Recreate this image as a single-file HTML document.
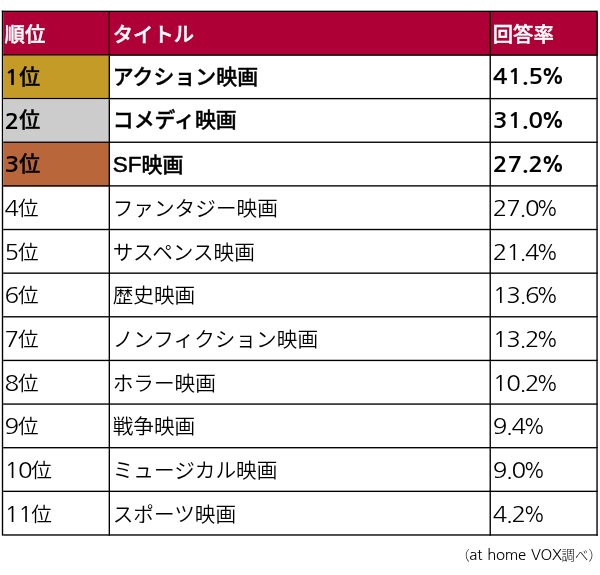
<!DOCTYPE html>
<html lang="ja">
<head>
<meta charset="utf-8">
<title>ランキング</title>
<style>
html,body{margin:0;padding:0;background:#fff;}
body{width:600px;height:575px;overflow:hidden;position:relative;font-family:"Liberation Sans","Noto Sans CJK JP",sans-serif;color:#000;}
#wrap{position:absolute;left:0;top:0;width:1320px;height:1265px;transform:translateY(-0.25px) scale(0.4545455);transform-origin:0 0;}
table{position:absolute;left:4px;top:24px;border-collapse:separate;border-spacing:0;table-layout:fixed;width:1311px;border-top:3px solid #000;border-left:3px solid #000;}
td,th{box-sizing:border-box;border-right:3px solid #000;border-bottom:3px solid #000;height:96px;padding:0 0 0 3px;text-align:left;vertical-align:top;white-space:nowrap;overflow:hidden;}
td div,th div{height:93px;line-height:100px;overflow:hidden;}
th div{line-height:100px;}
tr.top td div{line-height:93.6px;}
th{background:#ae0036;color:#fff;font-weight:500;font-size:44.8px;-webkit-text-stroke:0.9px #fff;}
td{font-weight:350;font-size:45.4px;}
tr.top td{font-weight:500;font-size:46px;-webkit-text-stroke:0.9px #000;}
td:nth-child(2),th:nth-child(2){padding-left:6px;}
td:nth-child(3),th:nth-child(3){padding-left:4px;}
.n,.p{font-family:"NanumGothic","Liberation Sans",sans-serif;display:inline-block;line-height:1;transform-origin:0 50%;-webkit-text-stroke:0;}
td .n{font-size:47.4px;font-weight:400;letter-spacing:-2.4px;transform:scaleX(1.12);}
td .p{font-size:46.9px;font-weight:400;transform:scaleX(0.95);}
td i{font-style:normal;margin:0 -0.7px;}
tr.top td .n,tr.top td .p{position:relative;top:1.2px;}
tr.top td .d1{top:2.6px;}
tr.top td .n{font-size:46.6px;font-weight:700;letter-spacing:-0.2px;transform:scaleX(1.16);-webkit-text-stroke:0;}
tr.top td .p{font-size:45.5px;font-weight:700;transform:scaleX(1.03);-webkit-text-stroke:0;}
tr.top td i{margin:0 -1.3px;}
td .d1{margin-right:3.16px}
td .d2{margin-right:6.32px}
td .p3{margin-left:6.74px}
td .p2{margin-left:3.59px}
tr.top td .d1{margin-right:4.49px}
tr.top td .d2{margin-right:8.97px}
tr.top td .p3{margin-left:11.97px}
tr.top td .p2{margin-left:7.48px}
tr.top td .a{font-family:"Liberation Sans",sans-serif;font-size:49.6px;font-weight:400;-webkit-text-stroke:1.1px #000;}
.c1{width:235px}.c2{width:838px}.c3{width:235px}
.gold{background:#c49b27}.silver{background:#cccccc}.bronze{background:#b8663a}
#cap{position:absolute;right:-4px;top:1199px;font-size:29.5px;font-weight:300;line-height:48px;white-space:nowrap;}
#cap .l{font-family:"NanumGothic","Liberation Sans",sans-serif;font-size:32.8px;font-weight:400;letter-spacing:-0.76px;word-spacing:3.3px;line-height:1;margin-left:-1px;}
</style>
</head>
<body>
<div id="wrap">
<table>
<colgroup><col class="c1"><col class="c2"><col class="c3"></colgroup>
<tr><th><div>順位</div></th><th><div>タイトル</div></th><th><div>回答率</div></th></tr>
<tr class="top"><td class="gold"><div><span class="n d1">1</span>位</div></td><td><div>アクション映画</div></td><td><div><span class="n">41<i>.</i>5</span><span class="p p3">%</span></div></td></tr>
<tr class="top"><td class="silver"><div><span class="n d1">2</span>位</div></td><td><div>コメディ映画</div></td><td><div><span class="n">31<i>.</i>0</span><span class="p p3">%</span></div></td></tr>
<tr class="top"><td class="bronze"><div><span class="n d1">3</span>位</div></td><td><div><span class="a">SF</span>映画</div></td><td><div><span class="n">27<i>.</i>2</span><span class="p p3">%</span></div></td></tr>
<tr><td><div><span class="n d1">4</span>位</div></td><td><div>ファンタジー映画</div></td><td><div><span class="n">27<i>.</i>0</span><span class="p p3">%</span></div></td></tr>
<tr><td><div><span class="n d1">5</span>位</div></td><td><div>サスペンス映画</div></td><td><div><span class="n">21<i>.</i>4</span><span class="p p3">%</span></div></td></tr>
<tr><td><div><span class="n d1">6</span>位</div></td><td><div>歴史映画</div></td><td><div><span class="n">13<i>.</i>6</span><span class="p p3">%</span></div></td></tr>
<tr><td><div><span class="n d1">7</span>位</div></td><td><div>ノンフィクション映画</div></td><td><div><span class="n">13<i>.</i>2</span><span class="p p3">%</span></div></td></tr>
<tr><td><div><span class="n d1">8</span>位</div></td><td><div>ホラー映画</div></td><td><div><span class="n">10<i>.</i>2</span><span class="p p3">%</span></div></td></tr>
<tr><td><div><span class="n d1">9</span>位</div></td><td><div>戦争映画</div></td><td><div><span class="n">9<i>.</i>4</span><span class="p p2">%</span></div></td></tr>
<tr><td><div><span class="n d2">10</span>位</div></td><td><div>ミュージカル映画</div></td><td><div><span class="n">9<i>.</i>0</span><span class="p p2">%</span></div></td></tr>
<tr><td><div><span class="n d2">11</span>位</div></td><td><div>スポーツ映画</div></td><td><div><span class="n">4<i>.</i>2</span><span class="p p2">%</span></div></td></tr>
</table>
<div id="cap">（<span class="l">at home VOX</span>調べ）</div>
</div>
</body>
</html>
